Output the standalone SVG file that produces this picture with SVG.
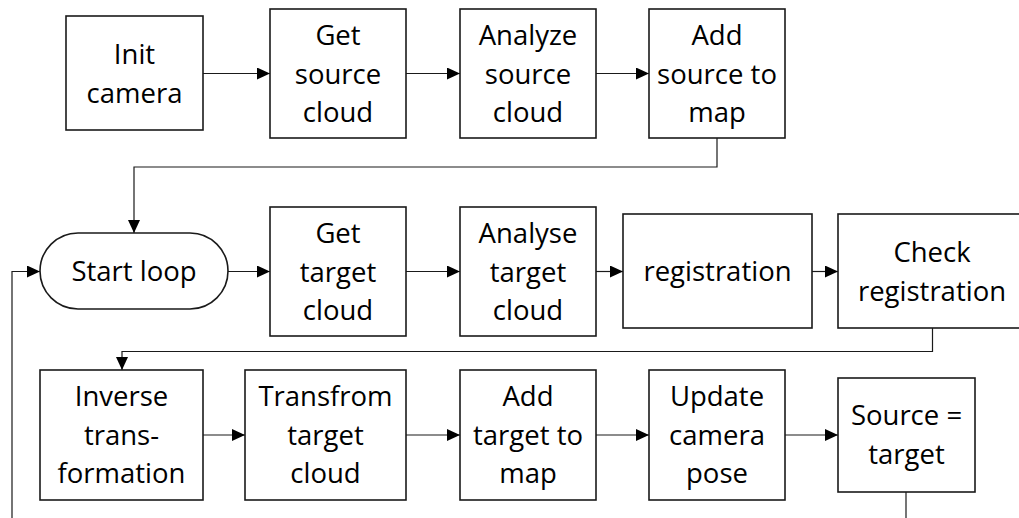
<svg xmlns="http://www.w3.org/2000/svg" width="1019" height="518" viewBox="0 0 1019 518">
<style>
.box{fill:#fff;stroke:#1a1a1a;stroke-width:1.6}
.t{font-family:"Open Sans","Noto Sans",sans-serif;font-size:27.5px;fill:#000;text-anchor:middle}
.c{fill:none;stroke:#1a1a1a;stroke-width:1.2}
</style>
<defs>
<marker id="ah" viewBox="0 0 13 12" refX="13" refY="6" markerWidth="13" markerHeight="12" markerUnits="userSpaceOnUse" orient="auto">
<path d="M0,0 L13,6 L0,12 Z" fill="#000"/>
</marker>
</defs>
<rect width="1019" height="518" fill="#fff"/>
<g id="connectors">
<path class="c" d="M203,73.5 H270" marker-end="url(#ah)"/>
<path class="c" d="M406,73.5 H460" marker-end="url(#ah)"/>
<path class="c" d="M596,73.5 H649" marker-end="url(#ah)"/>
<path class="c" d="M717,138 V167 H134 V233" marker-end="url(#ah)"/>
<path class="c" d="M228,271.5 H270" marker-end="url(#ah)"/>
<path class="c" d="M406,271.5 H460" marker-end="url(#ah)"/>
<path class="c" d="M596,271.5 H623" marker-end="url(#ah)"/>
<path class="c" d="M812,271.5 H838" marker-end="url(#ah)"/>
<path class="c" d="M932.5,328 V351.5 H122 V370" marker-end="url(#ah)"/>
<path class="c" d="M203,435 H245" marker-end="url(#ah)"/>
<path class="c" d="M406,435 H460" marker-end="url(#ah)"/>
<path class="c" d="M596,435 H649" marker-end="url(#ah)"/>
<path class="c" d="M785,435 H838" marker-end="url(#ah)"/>
<path class="c" d="M906,492 V518"/>
<path class="c" d="M12,518 V271.5 H40" marker-end="url(#ah)"/>
</g>
<g id="init-camera">
<rect class="box" x="66" y="16" width="137" height="114"/>
<text class="t" x="134.5" y="64">Init</text>
<text class="t" x="134.5" y="102.5">camera</text>
</g>
<g id="get-source-cloud">
<rect class="box" x="270" y="9" width="136" height="129"/>
<text class="t" x="338" y="45">Get</text>
<text class="t" x="338" y="83.5">source</text>
<text class="t" x="338" y="122">cloud</text>
</g>
<g id="analyze-source-cloud">
<rect class="box" x="460" y="9" width="136" height="129"/>
<text class="t" x="528" y="45">Analyze</text>
<text class="t" x="528" y="83.5">source</text>
<text class="t" x="528" y="122">cloud</text>
</g>
<g id="add-source-to-map">
<rect class="box" x="649" y="9" width="136" height="129"/>
<text class="t" x="717" y="45">Add</text>
<text class="t" x="717" y="83.5">source to</text>
<text class="t" x="717" y="122">map</text>
</g>
<g id="start-loop">
<rect class="box" x="40" y="233" width="188" height="76" rx="38" ry="38"/>
<text class="t" x="134" y="281">Start loop</text>
</g>
<g id="get-target-cloud">
<rect class="box" x="270" y="207" width="136" height="129"/>
<text class="t" x="338" y="243">Get</text>
<text class="t" x="338" y="281.5">target</text>
<text class="t" x="338" y="320">cloud</text>
</g>
<g id="analyse-target-cloud">
<rect class="box" x="460" y="207" width="136" height="129"/>
<text class="t" x="528" y="243">Analyse</text>
<text class="t" x="528" y="281.5">target</text>
<text class="t" x="528" y="320">cloud</text>
</g>
<g id="registration">
<rect class="box" x="623" y="214" width="189" height="114"/>
<text class="t" x="717.5" y="281">registration</text>
</g>
<g id="check-registration">
<rect class="box" x="838" y="214" width="189" height="114"/>
<text class="t" x="932" y="262">Check</text>
<text class="t" x="932" y="300.5">registration</text>
</g>
<g id="inverse-transformation">
<rect class="box" x="40" y="370" width="163" height="130"/>
<text class="t" x="121.5" y="406">Inverse</text>
<text class="t" x="121.5" y="444.5">trans-</text>
<text class="t" x="121.5" y="483">formation</text>
</g>
<g id="transfrom-target-cloud">
<rect class="box" x="245" y="370" width="161" height="130"/>
<text class="t" x="325.5" y="406">Transfrom</text>
<text class="t" x="325.5" y="444.5">target</text>
<text class="t" x="325.5" y="483">cloud</text>
</g>
<g id="add-target-to-map">
<rect class="box" x="460" y="370" width="136" height="130"/>
<text class="t" x="528" y="406">Add</text>
<text class="t" x="528" y="444.5">target to</text>
<text class="t" x="528" y="483">map</text>
</g>
<g id="update-camera-pose">
<rect class="box" x="649" y="370" width="136" height="130"/>
<text class="t" x="717" y="406">Update</text>
<text class="t" x="717" y="444.5">camera</text>
<text class="t" x="717" y="483">pose</text>
</g>
<g id="source-target">
<rect class="box" x="838" y="378" width="137" height="114"/>
<text class="t" x="906.5" y="425">Source =</text>
<text class="t" x="906.5" y="463.5">target</text>
</g>
</svg>
